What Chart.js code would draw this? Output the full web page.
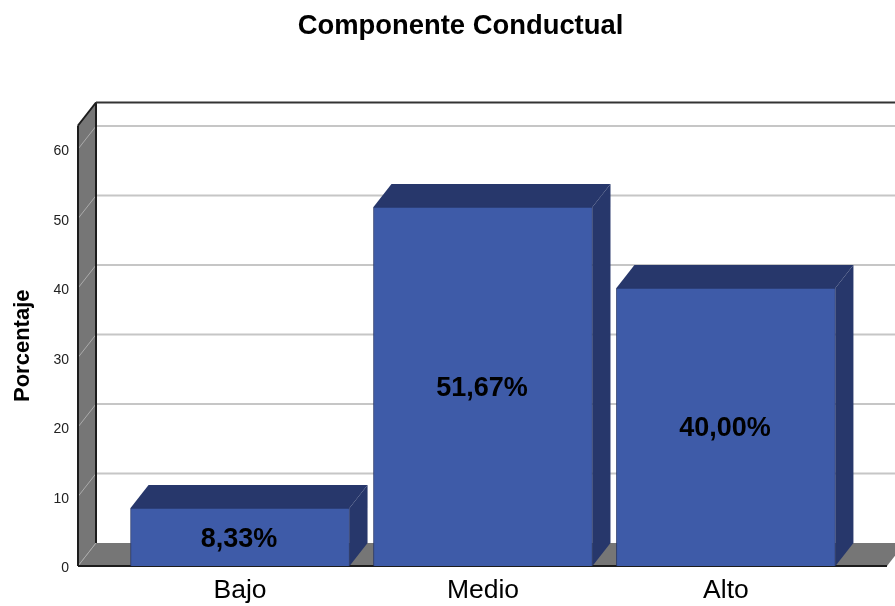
<!DOCTYPE html>
<html>
<head>
<meta charset="utf-8">
<title>Componente Conductual</title>
<script src="https://cdn.jsdelivr.net/npm/chart.js@4/dist/chart.umd.min.js"></script>
<style>
  html, body { margin: 0; padding: 0; background: #fff; }
  canvas { display: block; }
</style>
</head>
<body>
<canvas id="grafico" width="895" height="606"></canvas>
<script>
// datos
const titulo = 'Componente Conductual';
const ejeY = 'Porcentaje';
const categorias = ['Bajo', 'Medio', 'Alto'];
const porcentajes = [8.33, 51.67, 40.00];
const marcasY = [0, 10, 20, 30, 40, 50, 60];

const FUENTE = '"Liberation Sans", Arial, sans-serif';
const FONDO_X = 18;   // profundidad del efecto 3D
const FONDO_Y = 23;
const GRIS = '#767676';
const BORDE = '#1c1c1c';
const AZUL = '#3e5ba8';
const AZUL_OSCURO = '#27376b';

function poligono(ctx, puntos, relleno) {
    ctx.beginPath();
    puntos.forEach((p, i) => i ? ctx.lineTo(p[0], p[1]) : ctx.moveTo(p[0], p[1]));
    ctx.closePath();
    ctx.fillStyle = relleno;
    ctx.fill();
}

function linea(ctx, x1, y1, x2, y2, color, ancho) {
    ctx.beginPath();
    ctx.moveTo(x1, y1);
    ctx.lineTo(x2, y2);
    ctx.strokeStyle = color;
    ctx.lineWidth = ancho;
    ctx.stroke();
}

// paredes, suelo, rejilla y caras laterales de las barras
const caja3d = {
    id: 'caja3d',
    beforeDatasetsDraw(chart) {
        const ctx = chart.ctx;
        const { left, right, top, bottom } = chart.chartArea;
        const y = chart.scales.y;
        ctx.save();

        // suelo y pared izquierda
        poligono(ctx, [[left, bottom], [right, bottom], [right + FONDO_X, bottom - FONDO_Y], [left + FONDO_X, bottom - FONDO_Y]], GRIS);
        poligono(ctx, [[left, bottom], [left, top], [left + FONDO_X, top - FONDO_Y], [left + FONDO_X, bottom - FONDO_Y]], GRIS);

        // rejilla en la pared del fondo y su continuacion en la pared izquierda
        marcasY.forEach(v => {
            const py = y.getPixelForValue(v);
            if (v > 0) {
                linea(ctx, left + FONDO_X, py - FONDO_Y, right + FONDO_X, py - FONDO_Y, '#c6c6c6', 2);
            }
            linea(ctx, left, py, left + FONDO_X, py - FONDO_Y, '#ababab', 1);
        });

        // contornos
        linea(ctx, left, top, left, bottom, BORDE, 2);
        linea(ctx, left + FONDO_X, top - FONDO_Y, left + FONDO_X, bottom - FONDO_Y, BORDE, 2);
        linea(ctx, left, top, left + FONDO_X, top - FONDO_Y, BORDE, 2);
        linea(ctx, left + FONDO_X, top - FONDO_Y, right + FONDO_X, top - FONDO_Y, '#333', 2);
        linea(ctx, left, bottom, right, bottom, BORDE, 2);

        // caras superior y lateral
        chart.getDatasetMeta(0).data.forEach(bar => {
            const p = bar.getProps(['x', 'y', 'base', 'width'], true);
            const izq = p.x - p.width / 2;
            const der = p.x + p.width / 2;
            poligono(ctx, [[izq, p.y], [der, p.y], [der + FONDO_X, p.y - FONDO_Y], [izq + FONDO_X, p.y - FONDO_Y]], AZUL_OSCURO);
            poligono(ctx, [[der, p.y], [der, p.base], [der + FONDO_X, p.base - FONDO_Y], [der + FONDO_X, p.y - FONDO_Y]], AZUL_OSCURO);
        });
        ctx.restore();
    },
    afterDatasetsDraw(chart) {
        const ctx = chart.ctx;
        ctx.save();
        ctx.fillStyle = '#000';
        ctx.textAlign = 'center';
        ctx.textBaseline = 'middle';
        ctx.font = 'bold 27px ' + FUENTE;
        chart.getDatasetMeta(0).data.forEach((bar, i) => {
            const p = bar.getProps(['x', 'y', 'base'], true);
            ctx.fillText(porcentajes[i].toFixed(2).replace('.', ',') + '%', p.x - 1, (p.y + p.base) / 2 + 2);
        });
        ctx.font = 'bold 27.4px ' + FUENTE;
        ctx.fillText(titulo, 460.5, 26.5);
        ctx.restore();
    }
};

new Chart(document.getElementById('grafico'), {
    type: 'bar',
    data: {
        datasets: [{
            data: porcentajes.map((v, i) => ({ x: i, y: v })),
            backgroundColor: AZUL,
            borderColor: AZUL_OSCURO,
            borderWidth: 1,
            barThickness: 219
        }]
    },
    options: {
        responsive: false,
        animation: false,
        layout: { padding: { top: 125.5, right: 8, left: 0, bottom: 0 } },
        plugins: {
            legend: { display: false },
            title: { display: false },
            tooltip: { enabled: false }
        },
        scales: {
            x: {
                type: 'linear',
                offset: false,
                min: -0.667,
                max: 2.663,
                afterBuildTicks: s => { s.ticks = categorias.map((c, i) => ({ value: i })); },
                afterFit: s => { s.height = 40; },
                grid: { display: false, drawTicks: false },
                border: { display: false },
                ticks: {
                    autoSkip: false,
                    maxRotation: 0,
                    padding: 9,
                    color: '#000',
                    font: { family: FUENTE, size: 26.5 },
                    callback: v => categorias[v]
                }
            },
            y: {
                min: 0,
                max: 63.4,
                afterBuildTicks: s => { s.ticks = marcasY.map(v => ({ value: v })); },
                afterFit: s => { s.width = 78; },
                grid: { display: false, drawTicks: false },
                border: { display: false },
                title: {
                    display: true,
                    text: ejeY,
                    color: '#000',
                    padding: { top: 10, bottom: 0 },
                    font: { family: FUENTE, size: 22, weight: 'bold' }
                },
                ticks: {
                    padding: 9,
                    labelOffset: 2.5,
                    color: '#222',
                    font: { family: FUENTE, size: 14 }
                }
            }
        }
    },
    plugins: [caja3d]
});
</script>
</body>
</html>
